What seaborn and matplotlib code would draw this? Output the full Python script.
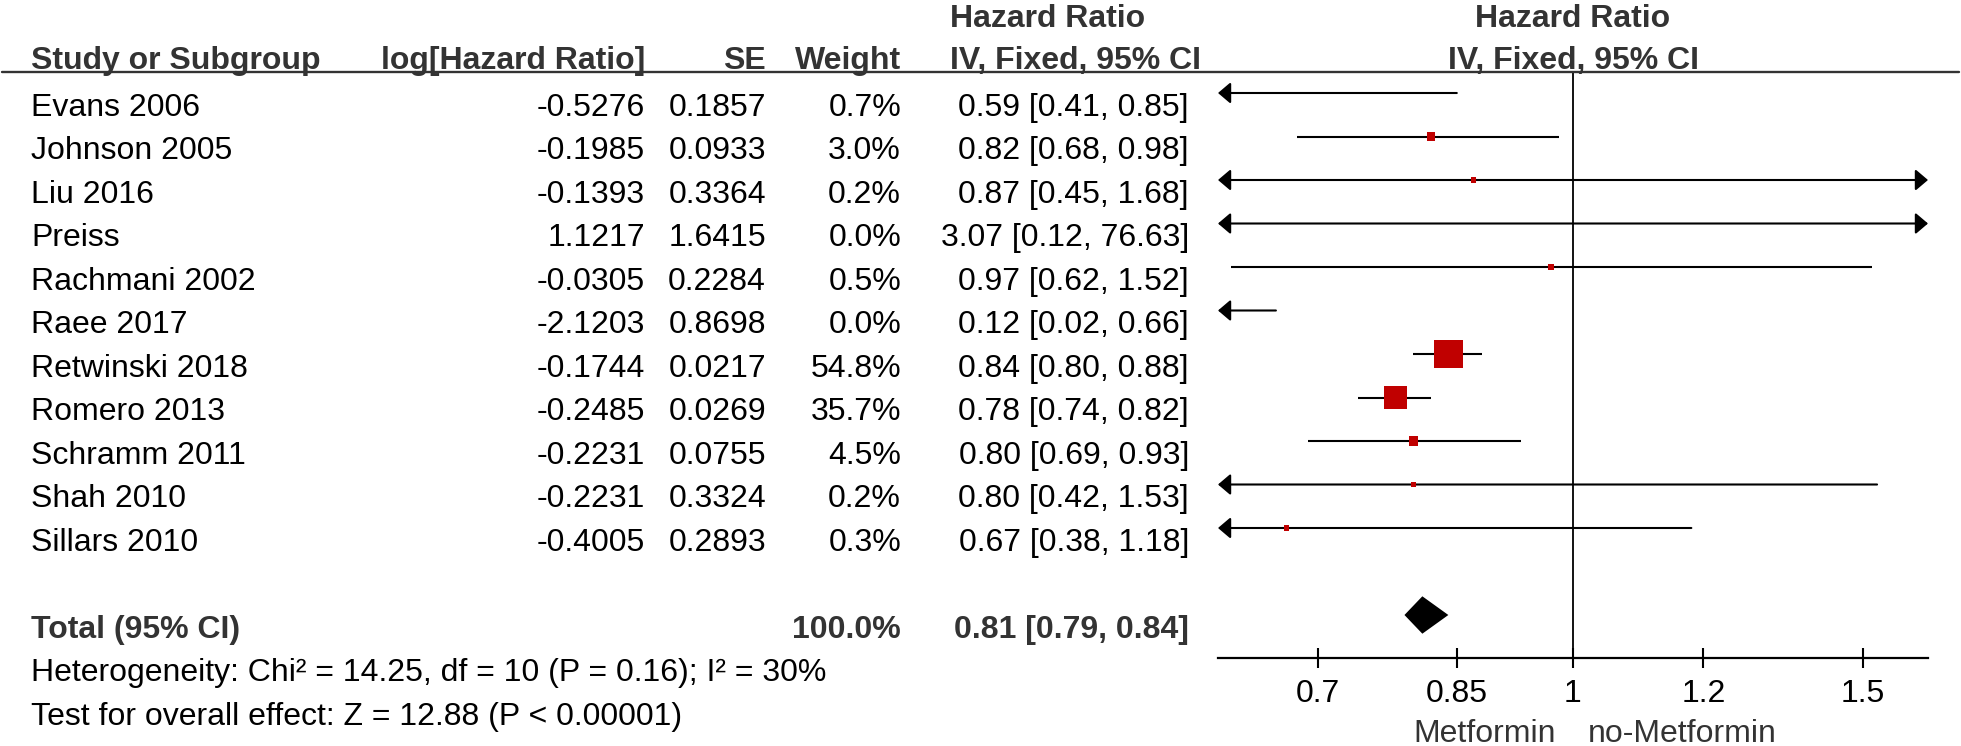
import numpy as np
import pandas as pd
import matplotlib
matplotlib.use("Agg")
import matplotlib.pyplot as plt
import seaborn as sns
from matplotlib.transforms import blended_transform_factory
from matplotlib.lines import Line2D
from matplotlib.ticker import NullLocator, FixedLocator, FixedFormatter

# ---------------- data ----------------
studies = ["Evans 2006", "Johnson 2005", "Liu 2016", "Preiss", "Rachmani 2002", "Raee 2017",
           "Retwinski 2018", "Romero 2013", "Schramm 2011", "Shah 2010", "Sillars 2010"]
log_hr_text = ["-0.5276", "-0.1985", "-0.1393", "1.1217", "-0.0305", "-2.1203",
               "-0.1744", "-0.2485", "-0.2231", "-0.2231", "-0.4005"]
se_text = ["0.1857", "0.0933", "0.3364", "1.6415", "0.2284", "0.8698",
           "0.0217", "0.0269", "0.0755", "0.3324", "0.2893"]
weight = [0.7, 3.0, 0.2, 0.0, 0.5, 0.0, 54.8, 35.7, 4.5, 0.2, 0.3]
hr = [0.59, 0.82, 0.87, 3.07, 0.97, 0.12, 0.84, 0.78, 0.80, 0.80, 0.67]
ci_low = [0.41, 0.68, 0.45, 0.12, 0.62, 0.02, 0.80, 0.74, 0.69, 0.42, 0.38]
ci_high = [0.85, 0.98, 1.68, 76.63, 1.52, 0.66, 0.88, 0.82, 0.93, 1.53, 1.18]

total_label = "Total (95% CI)"
total_weight = 100.0
total_hr = 0.81
total_low = 0.79
total_high = 0.84
heterogeneity = "Heterogeneity: Chi\u00b2 = 14.25, df = 10 (P = 0.16); I\u00b2 = 30%"
overall_effect = "Test for overall effect: Z = 12.88 (P < 0.00001)"

x_ticks = [0.7, 0.85, 1, 1.2, 1.5]
x_tick_labels = ["0.7", "0.85", "1", "1.2", "1.5"]
favours_left = "Metformin"
favours_right = "no-Metformin"
col_headers = ["Study or Subgroup", "log[Hazard Ratio]", "SE", "Weight", "IV, Fixed, 95% CI"]
effect_header = "Hazard Ratio"

# ---------------- style ----------------
sns.set_theme(style="white")
plt.rcParams["font.family"] = ["Liberation Sans", "DejaVu Sans"]
FS = 23
BODY = "#000000"
HEAD = "#333333"
RED = "#c00000"

W, H = 1961, 746
fig = plt.figure(figsize=(W / 100, H / 100), dpi=100)

row_top_px, row_step_px = 93.0, 43.5
ax_top_px, ax_bot_px = 72.0, 657.7
ax_left_px, ax_right_px = 1218.0, 1928.0
ax = fig.add_axes([ax_left_px / W, 1 - ax_bot_px / H,
                   (ax_right_px - ax_left_px) / W, (ax_bot_px - ax_top_px) / H])
ax.set_xscale("log")
xmin, xmax = 1 / 1.643, 1.643
ax.set_xlim(xmin, xmax)
ax.set_ylim((ax_bot_px - row_top_px) / row_step_px, (ax_top_px - row_top_px) / row_step_px)
ax.set_facecolor("white")
for s in ["top", "left", "right"]:
    ax.spines[s].set_visible(False)
ax.spines["bottom"].set_color("black")
ax.spines["bottom"].set_linewidth(1.6)
ax.yaxis.set_visible(False)
ax.xaxis.set_major_locator(FixedLocator(x_ticks))
ax.xaxis.set_major_formatter(FixedFormatter(x_tick_labels))
ax.xaxis.set_minor_locator(NullLocator())
ax.tick_params(axis="x", direction="inout", length=15, width=1.5, color="black",
               labelsize=FS, labelcolor=BODY, pad=7.5, bottom=True)
ax.grid(False)

rows = np.arange(len(studies))
total_row = len(studies) + 1

# line of no effect
ax.axvline(1, color="black", lw=1.3, zorder=1)

# confidence intervals
ap_base = dict(color="black", lw=1.5, shrinkA=0, shrinkB=0, mutation_scale=19)
head = ",head_length=0.4,head_width=0.34"
for r, lo, hi in zip(rows, ci_low, ci_high):
    if lo < xmin and hi > xmax:
        ax.annotate("", xy=(xmin, r), xytext=(xmax, r),
                    arrowprops=dict(arrowstyle="<|-|>" + head, **ap_base))
    elif lo < xmin:
        ax.annotate("", xy=(xmin, r), xytext=(hi, r),
                    arrowprops=dict(arrowstyle="-|>" + head, **ap_base))
    elif hi > xmax:
        ax.annotate("", xy=(xmax, r), xytext=(lo, r),
                    arrowprops=dict(arrowstyle="-|>" + head, **ap_base))
    else:
        ax.plot([lo, hi], [r, r], color="black", lw=1.5, solid_capstyle="butt", zorder=2)

# weighted squares
df = pd.DataFrame({"row": rows, "hr": hr, "weight": weight})
sns.scatterplot(data=df, x="hr", y="row", size="weight", sizes=(13, 427), marker="s",
                color=RED, linewidth=0, legend=False, ax=ax, zorder=3)
ax.set_xlabel("")
ax.set_ylabel("")
ax.set_xlim(xmin, xmax)

# pooled diamond
dh = 0.43
ax.fill([total_low, total_hr, total_high, total_hr],
        [total_row, total_row - dh, total_row, total_row + dh],
        color="black", lw=0, zorder=3)

# favours labels
ax.annotate(favours_left, xy=(1, 0), xycoords=("data", "axes fraction"),
            xytext=(-12, -61), textcoords="offset points", ha="right", va="baseline",
            fontsize=FS, color=HEAD)
ax.annotate(favours_right, xy=(1, 0), xycoords=("data", "axes fraction"),
            xytext=(11, -61), textcoords="offset points", ha="left", va="baseline",
            fontsize=FS, color=HEAD)

# ---------------- table text ----------------
tr = blended_transform_factory(fig.transFigure, ax.transData)
def px(x):
    return x / W

x_study, x_log, x_se, x_w, x_ci_r, x_ci_l = px(31), px(645), px(766), px(901), px(1189), px(950)
off = 0.52
hdr1 = (27 - row_top_px) / row_step_px
hdr2 = (69 - row_top_px) / row_step_px

# headers
hkw = dict(fontsize=FS, fontweight="bold", color=HEAD, va="baseline", transform=tr)
fig.text(x_ci_l, hdr1, effect_header, ha="left", **hkw)
fig.text(x_study, hdr2, col_headers[0], ha="left", **hkw)
fig.text(x_log, hdr2, col_headers[1], ha="right", **hkw)
fig.text(x_se, hdr2, col_headers[2], ha="right", **hkw)
fig.text(x_w, hdr2, col_headers[3], ha="right", **hkw)
fig.text(x_ci_l, hdr2, col_headers[4], ha="left", **hkw)
ax.text(1, hdr1, effect_header, ha="center", va="baseline", fontsize=FS,
        fontweight="bold", color=HEAD)
ax.text(1, hdr2, col_headers[4], ha="center", va="baseline", fontsize=FS,
        fontweight="bold", color=HEAD)

fig.add_artist(Line2D([0.001, 0.999], [1 - ax_top_px / H] * 2, transform=fig.transFigure,
                      color=HEAD, lw=1.7))

# study rows
bkw = dict(fontsize=FS, color=BODY, va="baseline", transform=tr)
for r, name, lh, s, w, h, lo, hi in zip(rows, studies, log_hr_text, se_text, weight, hr, ci_low, ci_high):
    y = r + off
    fig.text(x_study, y, name, ha="left", **bkw)
    fig.text(x_log, y, lh, ha="right", **bkw)
    fig.text(x_se, y, s, ha="right", **bkw)
    fig.text(x_w, y, f"{w:.1f}%", ha="right", **bkw)
    fig.text(x_ci_r, y, f"{h:.2f} [{lo:.2f}, {hi:.2f}]", ha="right", **bkw)

# total row
tkw = dict(fontsize=FS, fontweight="bold", color=HEAD, va="baseline", transform=tr)
fig.text(x_study, total_row + off, total_label, ha="left", **tkw)
fig.text(x_w, total_row + off, f"{total_weight:.1f}%", ha="right", **tkw)
fig.text(x_ci_r, total_row + off, f"{total_hr:.2f} [{total_low:.2f}, {total_high:.2f}]",
         ha="right", **tkw)

fig.text(x_study, total_row + 1 + off, heterogeneity, ha="left", **bkw)
fig.text(x_study, total_row + 2 + off, overall_effect, ha="left", **bkw)

fig.savefig("out.png", dpi=100, facecolor="white")
